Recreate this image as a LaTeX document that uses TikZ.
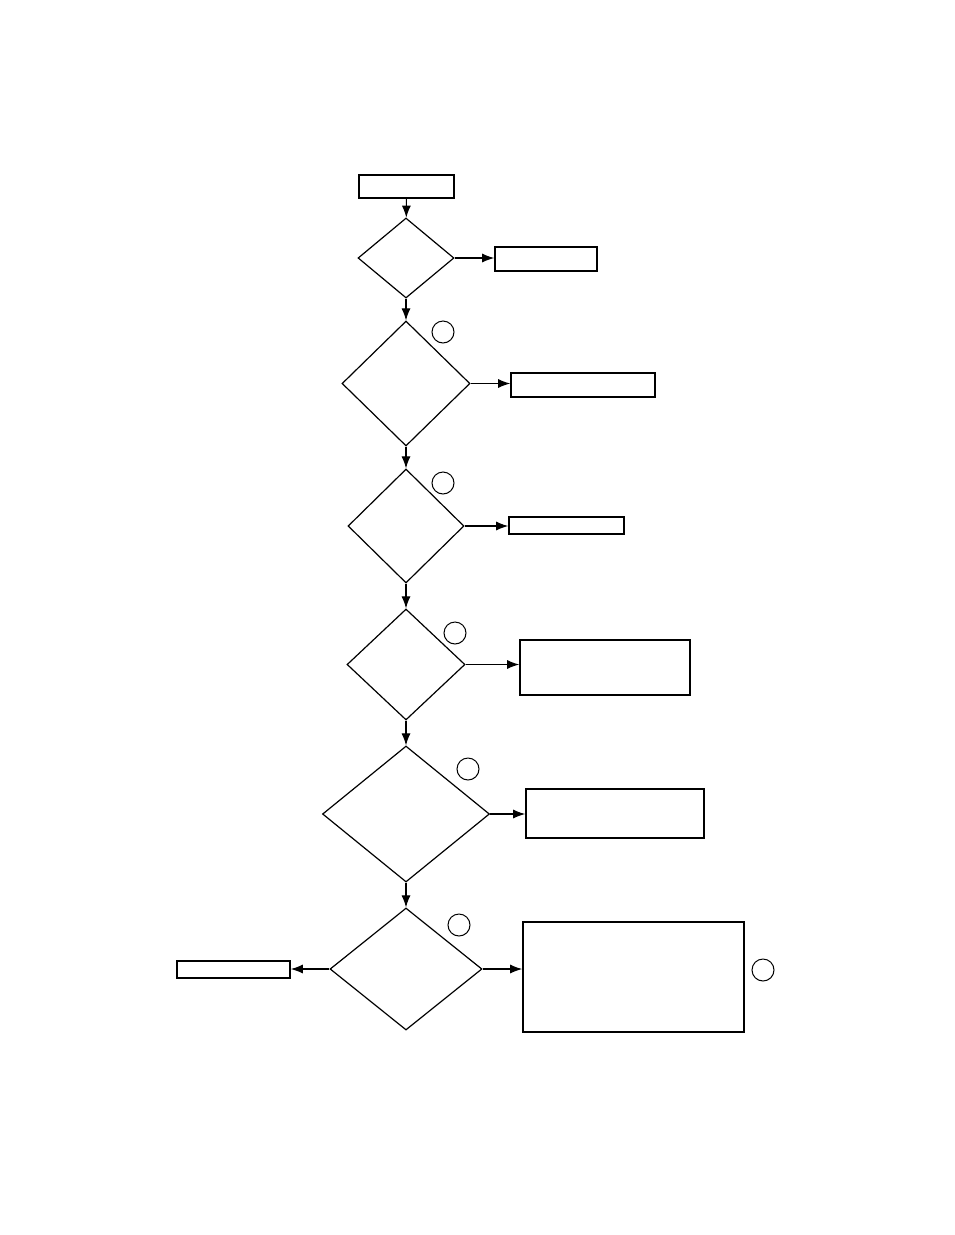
\documentclass[tikz,border=0pt]{standalone}
\usetikzlibrary{shapes.geometric,arrows.meta}
\begin{document}
\begin{tikzpicture}[x=1pt,y=-1pt,
    caja/.style={draw,line width=1.6pt,inner sep=0pt},
    rombo/.style={draw,diamond,line width=1.2pt,inner sep=0pt},
    marca/.style={draw,circle,line width=1pt,minimum size=22pt,inner sep=0pt},
    flecha/.style={line width=1.1pt,-{Latex[length=12pt,width=9pt]}}]

    \useasboundingbox (0,0) rectangle (954,1235);

    %Rombos
    \node[rombo,minimum width=96pt,minimum height=80pt] (r1) at (406,258) {};
    \node[rombo,minimum width=128pt,minimum height=125pt] (r2) at (406,383.5) {};
    \node[rombo,minimum width=116pt,minimum height=114pt] (r3) at (406,526) {};
    \node[rombo,minimum width=118pt,minimum height=111pt] (r4) at (406,664.5) {};
    \node[rombo,minimum width=167pt,minimum height=136pt] (r5) at (406,814) {};
    \node[rombo,minimum width=152pt,minimum height=122pt] (r6) at (406,969) {};

    %Cajas
    \node[caja,minimum width=95pt,minimum height=23pt] (inicio) at (406.5,186.5) {};
    \node[caja,minimum width=102pt,minimum height=24pt] (c1) at (546,259) {};
    \node[caja,minimum width=144pt,minimum height=24pt] (c2) at (583,385) {};
    \node[caja,minimum width=115pt,minimum height=17pt] (c3) at (566.5,525.5) {};
    \node[caja,minimum width=170pt,minimum height=55pt] (c4) at (605,667.5) {};
    \node[caja,minimum width=178pt,minimum height=49pt] (c5) at (615,813.5) {};
    \node[caja,minimum width=221pt,minimum height=110pt] (c6) at (633.5,977) {};
    \node[caja,minimum width=113pt,minimum height=17pt] (c7) at (233.5,969.5) {};

    %Circulos
    \node[marca] (m2) at (443,332) {};
    \node[marca] (m3) at (443,483) {};
    \node[marca] (m4) at (455,633) {};
    \node[marca] (m5) at (468,769) {};
    \node[marca] (m6) at (459,925) {};
    \node[marca] (m7) at (763,970) {};

    %Flechas
    \draw[flecha] (inicio) -- (r1);
    \draw[flecha] (r1) -- (r2);
    \draw[flecha] (r2) -- (r3);
    \draw[flecha] (r3) -- (r4);
    \draw[flecha] (r4) -- (r5);
    \draw[flecha] (r5) -- (r6);
    \foreach \r/\c in {r1/c1,r2/c2,r3/c3,r4/c4,r5/c5,r6/c6}
        \draw[flecha] (\r.east) -- (\r.east -| \c.west);
    \draw[flecha] (r6.west) -- (r6.west -| c7.east);
\end{tikzpicture}
\end{document}
